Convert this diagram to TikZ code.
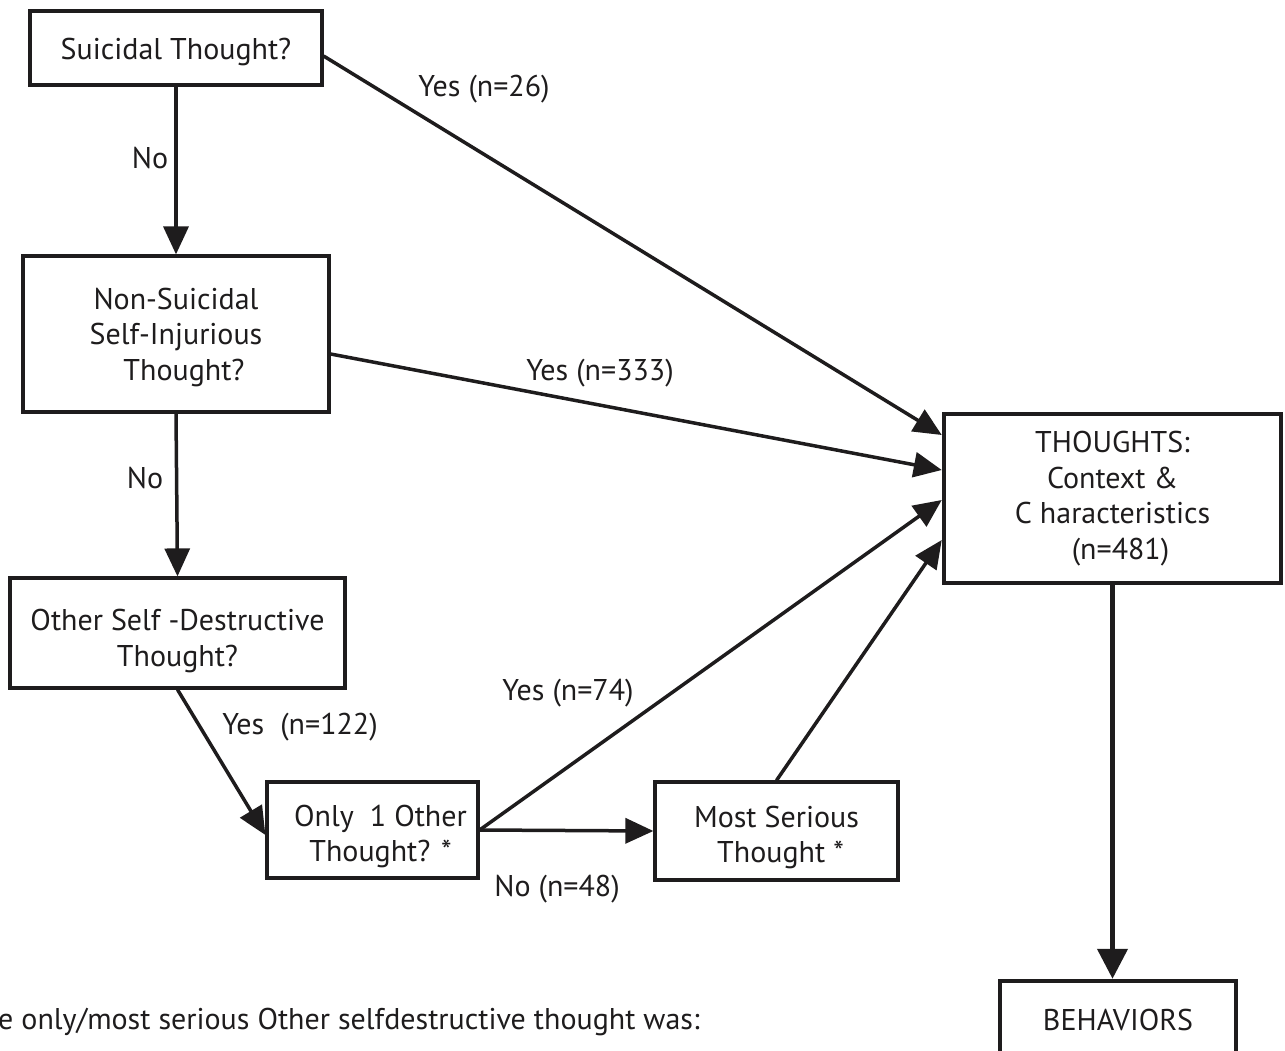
\documentclass[tikz,border=0pt]{standalone}
\usepackage{fontspec}
\setmainfont{PT Sans}
\usetikzlibrary{arrows.meta}
\definecolor{ink}{RGB}{30,28,29}
\newcommand\mylower[1]{\rule{0pt}{#1}}
\begin{document}
\begin{tikzpicture}[x=1pt,y=-1pt,
  every node/.style={font=\fontsize{30}{35.5}\selectfont, text=ink},
  box/.style={draw=ink, line width=3.2pt, align=center, inner sep=0pt},
  bigbox/.style={box, line width=4.5pt},
  conn/.style={draw=ink, line width=3.5pt, -{Triangle[length=28pt,width=25pt]}},
  bigconn/.style={draw=ink, line width=4.5pt, -{Triangle[length=30pt,width=30pt]}},
  lbl/.style={inner sep=0pt}]
\useasboundingbox (0,0) rectangle (1285,1051);
\clip (0,0) rectangle (1285,1051);
% boxes
\node[box, minimum width=292pt, minimum height=74pt] (s1) at (176,48) {\mylower{30pt}Suicidal Thought?};
\node[box, minimum width=306pt, minimum height=156pt] (s2) at (176,334) {\mylower{28pt}Non-Suicidal\\Self-Injurious\\\ \ Thought?};
\node[box, minimum width=335pt, minimum height=110pt] (s3) at (177.5,633) {\mylower{37pt}Other Self -Destructive\\Thought?};
\node[box, minimum width=211pt, minimum height=96pt] (s4) at (372.5,830) {\mylower{34pt}\ \ Only\ \ 1 Other\\\ \ Thought? *};
\node[box, minimum width=243pt, minimum height=98pt] (s5) at (776.5,831) {\mylower{34pt}Most Serious\\\ Thought *};
\node[bigbox, minimum width=337pt, minimum height=169pt] (th) at (1112.5,498.5) {THOUGHTS:\\Context \&\\C haracteristics\\\ \ (n=481)};
\node[bigbox, minimum width=236pt, minimum height=78pt] (beh) at (1118,1020) {BEHAVIORS};
% connectors
\draw[conn] (s1.south) -- (s2.north);
\draw[conn] ([yshift=-8pt]s1.east) -- ([yshift=63.5pt]th.west);
\draw[conn] ([yshift=-20pt]s2.east) -- ([yshift=28.5pt]th.west);
\draw[conn] (s2.south) -- (s3.north);
\draw[conn] (s3.south) -- ([yshift=-5pt]s4.west);
\draw[conn] (s4.east) -- ([yshift=-1.5pt]th.west);
\draw[conn] (s4.east) -- (s5.west);
\draw[conn] (s5.north) -- ([yshift=-41.5pt]th.west);
\draw[bigconn] (th.south) -- (th.south |- beh.north);
% labels
\node[lbl] (l1) at (150,158) {No};
\node[lbl] (l2) at (484,89) {Yes (n=26)};
\node[lbl] (l3) at (600,373) {Yes (n=333)};
\node[lbl] (l4) at (145,478) {No};
\node[lbl] (l5) at (300,727) {Yes\ \ (n=122)};
\node[lbl] (l6) at (568,693) {Yes (n=74)};
\node[lbl] (l7) at (557,889) {No (n=48)};
\node[lbl, anchor=west] (note) at (-2,1022) {e only/most serious Other selfdestructive thought was:};
\end{tikzpicture}
\end{document}
